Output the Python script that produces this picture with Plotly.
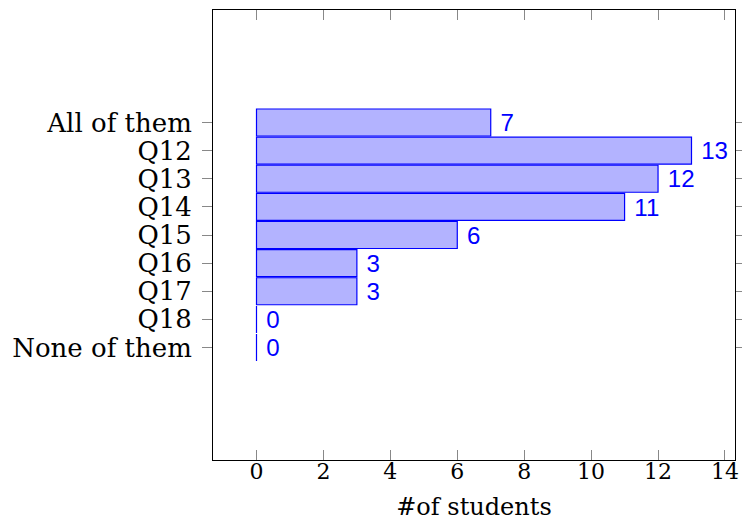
import plotly.graph_objects as go

categories = ["None of them", "Q18", "Q17", "Q16", "Q15", "Q14", "Q13", "Q12", "All of them"]
students = [0, 0, 3, 3, 6, 11, 12, 13, 7]
x_ticks = [0, 2, 4, 6, 8, 10, 12, 14]

serif = "DejaVu Serif, Liberation Serif, serif"

fig = go.Figure()
fig.add_trace(go.Bar(
    y=categories,
    x=students,
    orientation="h",
    width=0.96,
    marker=dict(color="#b3b3ff", line=dict(color="#0000ff", width=1.2)),
    text=["\u00a0" + str(v) for v in students],
    textposition="outside",
    textfont=dict(color="#0000ff", size=25, family="Liberation Sans, Arial, sans-serif"),
    cliponaxis=False,
))

fig.update_layout(
    width=742, height=532,
    margin=dict(l=213, r=7, t=10, b=72),
    plot_bgcolor="white", paper_bgcolor="white",
    showlegend=False,
    font=dict(family=serif, color="black"),
)
fig.update_xaxes(
    range=[-1.3, 14.3],
    tickmode="array",
    tickvals=x_ticks,
    ticktext=[str(t) for t in x_ticks],
    ticks="inside", ticklen=10, tickcolor="#888888", tickwidth=1,
    showline=True, linecolor="black", linewidth=1, mirror="ticks",
    showgrid=False, zeroline=False,
    tickfont=dict(size=22, family=serif),
    ticklabelstandoff=-8,
    automargin=False,
    title=dict(text="#of students", font=dict(size=24, family=serif), standoff=14),
)
fig.update_yaxes(
    type="category",
    categoryorder="array", categoryarray=categories,
    tickmode="array", tickvals=categories, ticktext=categories,
    range=[-4, 12],
    ticks="outside", ticklen=10, tickcolor="#888888", tickwidth=1,
    showline=True, linecolor="black", linewidth=1, mirror="ticks",
    showgrid=False, zeroline=False,
    tickfont=dict(size=26, family=serif),
    ticklabelstandoff=5,
    automargin=False,
)

fig.write_html(
    "out.html",
    config={"displayModeBar": False},
    post_script="document.body.style.margin='0';document.body.style.overflow='hidden';",
)
